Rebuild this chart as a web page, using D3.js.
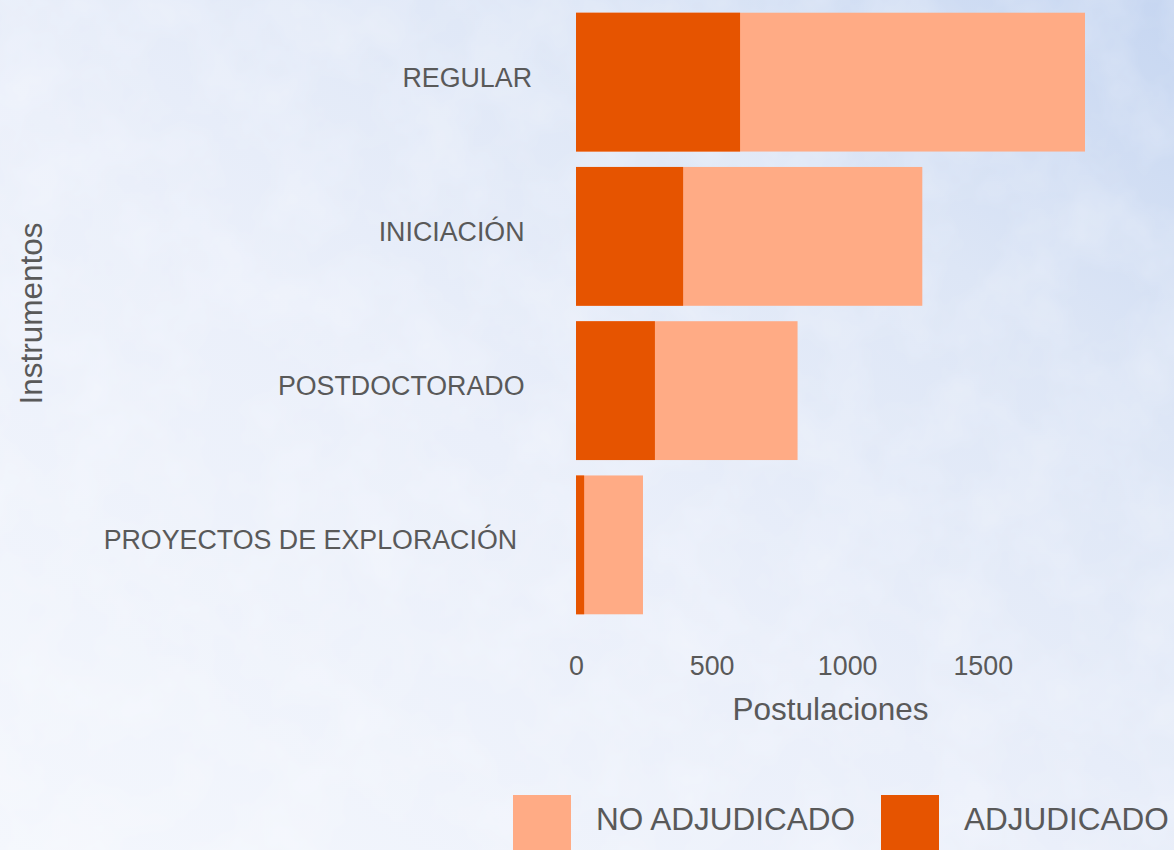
<!DOCTYPE html>
<html>
<head>
<meta charset="utf-8">
<script src="https://cdn.jsdelivr.net/npm/d3@7"></script>
<style>
  html, body { margin: 0; padding: 0; }
  body { width: 1174px; height: 850px; overflow: hidden; }
  svg text { font-family: "Liberation Sans", Arial, sans-serif; fill: #595959; white-space: pre; }
</style>
</head>
<body>
<svg id="chart"></svg>
<script>
const W = 1174;
const H = 850;

// data
const instrumentos = ['REGULAR', 'INICIACIÓN ', 'POSTDOCTORADO ', 'PROYECTOS DE EXPLORACIÓN  '];
const adjudicado = [605, 395, 291, 30];
const noAdjudicado = [1272, 882, 526, 217];
const xTicks = [0, 500, 1000, 1500];
const seriesNames = ['NO ADJUDICADO', 'ADJUDICADO'];
const seriesColors = ['#ffab85', '#e65400'];

const totals = adjudicado.map((a, i) => a + noAdjudicado[i]);

const svg = d3.select('#chart')
  .attr('width', W)
  .attr('height', H);

// background, a light sky wash
const defs = svg.append('defs');
const grad = defs.append('linearGradient')
  .attr('id', 'bg')
  .attr('x1', '100%').attr('y1', '0%')
  .attr('x2', '0%').attr('y2', '100%');
grad.append('stop').attr('offset', '0%').attr('stop-color', '#c6d6f1');
grad.append('stop').attr('offset', '25%').attr('stop-color', '#dde6f6');
grad.append('stop').attr('offset', '55%').attr('stop-color', '#eaeffa');
grad.append('stop').attr('offset', '100%').attr('stop-color', '#f4f7fd');

const filt = defs.append('filter').attr('id', 'clouds')
  .attr('x', 0).attr('y', 0).attr('width', '100%').attr('height', '100%');
filt.append('feTurbulence')
  .attr('type', 'fractalNoise')
  .attr('baseFrequency', 0.015)
  .attr('numOctaves', 4)
  .attr('seed', 3);
filt.append('feColorMatrix')
  .attr('type', 'matrix')
  .attr('values', '0 0 0 0 1  0 0 0 0 1  0 0 0 0 1  0 0 0 0.45 -0.15');

svg.append('rect')
  .attr('width', W).attr('height', H)
  .attr('fill', 'url(#bg)');
svg.append('rect')
  .attr('width', W).attr('height', H)
  .attr('filter', 'url(#clouds)');

// scales
const x = d3.scaleLinear()
  .domain([0, d3.max(totals)])
  .range([576, 1085]);

const y = d3.scaleBand()
  .domain(instrumentos)
  .range([5, 622])
  .paddingInner(0.1)
  .paddingOuter(0.05);

const rows = instrumentos.map((name, i) => ({
  name: name,
  adj: adjudicado[i],
  total: totals[i]
}));

// bars: the full total in light, the awarded part in dark on top
const bars = svg.append('g').attr('class', 'bars');
bars.selectAll('rect.total')
  .data(rows)
  .join('rect')
    .attr('class', 'total')
    .attr('x', x(0))
    .attr('y', d => y(d.name))
    .attr('width', d => x(d.total) - x(0))
    .attr('height', y.bandwidth())
    .attr('fill', seriesColors[0]);

bars.selectAll('rect.adj')
  .data(rows)
  .join('rect')
    .attr('class', 'adj')
    .attr('x', x(0))
    .attr('y', d => y(d.name))
    .attr('width', d => x(d.adj) - x(0))
    .attr('height', y.bandwidth())
    .attr('fill', seriesColors[1]);

// category labels
svg.append('g')
  .selectAll('text')
  .data(instrumentos)
  .join('text')
    .attr('x', 532)
    .attr('y', d => y(d) + y.bandwidth() / 2 + 4.5)
    .attr('text-anchor', 'end')
    .attr('font-size', 26.8)
    .text(d => d);

// x axis (labels only)
const xAxis = svg.append('g')
  .attr('transform', 'translate(0,650)')
  .call(d3.axisBottom(x).tickValues(xTicks).tickFormat(d3.format('d')).tickSize(0).tickPadding(0));
xAxis.select('.domain').remove();
xAxis.selectAll('text')
  .attr('font-size', 26.8)
  .attr('fill', '#595959')
  .attr('font-family', '"Liberation Sans", Arial, sans-serif')
  .attr('dy', '0.93em');

// axis titles
svg.append('text')
  .attr('x', (x.range()[0] + x.range()[1]) / 2)
  .attr('y', 720)
  .attr('text-anchor', 'middle')
  .attr('font-size', 31.5)
  .text('Postulaciones');

svg.append('text')
  .attr('transform', 'translate(42,' + ((y.range()[0] + y.range()[1]) / 2) + ') rotate(-90)')
  .attr('text-anchor', 'middle')
  .attr('font-size', 31.5)
  .text('Instrumentos');

// legend
const legendX = [513, 881];
const legend = svg.append('g')
  .selectAll('g')
  .data(seriesNames)
  .join('g')
    .attr('transform', (d, i) => 'translate(' + legendX[i] + ',795)');
legend.append('rect')
  .attr('width', 58)
  .attr('height', 58)
  .attr('fill', (d, i) => seriesColors[i]);
legend.append('text')
  .attr('x', 83)
  .attr('y', 35)
  .attr('font-size', 31.5)
  .text(d => d);
</script>
</body>
</html>
